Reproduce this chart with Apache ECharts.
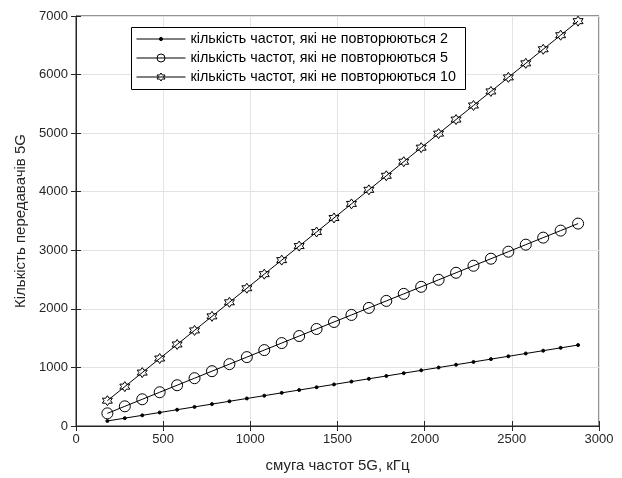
<!DOCTYPE html>
<html><head><meta charset="utf-8">
<script src="https://cdn.jsdelivr.net/npm/echarts@6/dist/echarts.min.js"></script>
<style>html,body{margin:0;padding:0;background:#fff}#c{width:622px;height:478px}</style>
</head><body><div id="c"></div>
<script>
const bandwidth = [180,280,380,480,580,680,780,880,980,1080,1180,1280,1380,1480,1580,1680,1780,1880,1980,2080,2180,2280,2380,2480,2580,2680,2780,2880];
const seriesNames = ['кількість частот, які не повторюються 2','кількість частот, які не повторюються 5','кількість частот, які не повторюються 10'];
const values2 = [86,134,182,230,278,326,374,422,470,518,566,614,662,710,758,806,854,902,950,998,1046,1094,1142,1190,1238,1286,1334,1382];
const values5 = [216,336,456,576,696,816,936,1056,1176,1296,1416,1536,1656,1776,1896,2016,2136,2256,2376,2496,2616,2736,2856,2976,3096,3216,3336,3456];
const values10 = [432,672,912,1152,1392,1632,1872,2112,2352,2592,2832,3072,3312,3552,3792,4032,4272,4512,4752,4992,5232,5472,5712,5952,6192,6432,6672,6912];
const xTitle = 'смуга частот 5G, кГц';
const yTitle = 'Кількість передавачів 5G';

const hexagram = 'path://M10 0 L12.887 5 L18.66 5 L15.774 10 L18.66 15 L12.887 15 L10 20 L7.113 15 L1.34 15 L4.226 10 L1.34 5 L7.113 5 Z';
const font = 'Liberation Sans, Arial, sans-serif';
const axisCol = '#262626';
const pairs = v => bandwidth.map((x,i)=>[x,v[i]]);

const chart = echarts.init(document.getElementById('c'));
const mkSeries = (name, data, symbol, size, fill) => ({
  name, type:'line', data: pairs(data), symbol, symbolSize:size,
  showAllSymbol:true, animation:false,
  lineStyle:{color:'#000', width:1},
  itemStyle:{color:fill, borderColor:'#000', borderWidth:1},
  emphasis:{disabled:true}
});
const mkLegend = (name, top, h) => ({
  orient:'vertical', left:136, top, padding:0, z:20,
  itemWidth:49, itemHeight:h, itemGap:0,
  textStyle:{fontFamily:font, fontSize:14.3, color:'#000', padding:[0,0,0,0]},
  lineStyle:{width:1, color:'#000'},
  itemStyle:{borderWidth:1, borderColor:'#000'},
  selectedMode:false,
  data:[name]
});
chart.setOption({
  backgroundColor:'#fff',
  animation:false,
  grid:{left:76, right:23, top:16, bottom:50, show:true, borderColor:axisCol, borderWidth:1},
  graphic:[{type:'rect', z:5, shape:{x:131.5, y:27.5, width:334, height:62},
    style:{fill:'#fff', stroke:'#000', lineWidth:1}}],
  legend:[
    mkLegend(seriesNames[0], 32, 4),
    mkLegend(seriesNames[1], 51, 10),
    mkLegend(seriesNames[2], 70, 10)
  ],
  xAxis:[{
    type:'value', min:0, max:3000, interval:500,
    name:xTitle, nameLocation:'middle', nameGap:32,
    nameTextStyle:{fontFamily:font, fontSize:15, color:axisCol},
    axisLine:{lineStyle:{color:axisCol}},
    axisTick:{inside:true, length:5, lineStyle:{color:axisCol}},
    axisLabel:{fontFamily:font, fontSize:13, color:axisCol, margin:7, formatter:v=>String(v)},
    splitLine:{show:true, lineStyle:{color:'#e3e3e3'}}
  },{
    type:'value', min:0, max:3000, interval:500, position:'top',
    axisLine:{show:false}, axisTick:{inside:true, length:5, lineStyle:{color:axisCol}},
    axisLabel:{show:false}, splitLine:{show:false}
  }],
  yAxis:[{
    type:'value', min:0, max:7000, interval:1000,
    name:yTitle, nameLocation:'middle', nameGap:44,
    nameTextStyle:{fontFamily:font, fontSize:15, color:axisCol},
    axisLine:{show:true, lineStyle:{color:axisCol}},
    axisTick:{show:true, inside:true, length:5, lineStyle:{color:axisCol}},
    axisLabel:{fontFamily:font, fontSize:13, color:axisCol, margin:8, formatter:v=>String(v)},
    splitLine:{show:true, lineStyle:{color:'#e3e3e3'}}
  },{
    type:'value', min:0, max:7000, interval:1000, position:'right',
    axisLine:{show:false}, axisTick:{show:true, inside:true, length:5, lineStyle:{color:axisCol}},
    axisLabel:{show:false}, splitLine:{show:false}
  }],
  series:[
    mkSeries(seriesNames[0], values2, 'circle', 3, '#000'),
    mkSeries(seriesNames[1], values5, 'circle', 11, 'rgba(0,0,0,0)'),
    mkSeries(seriesNames[2], values10, hexagram, 10, 'rgba(0,0,0,0)')
  ]
});
</script></body></html>
